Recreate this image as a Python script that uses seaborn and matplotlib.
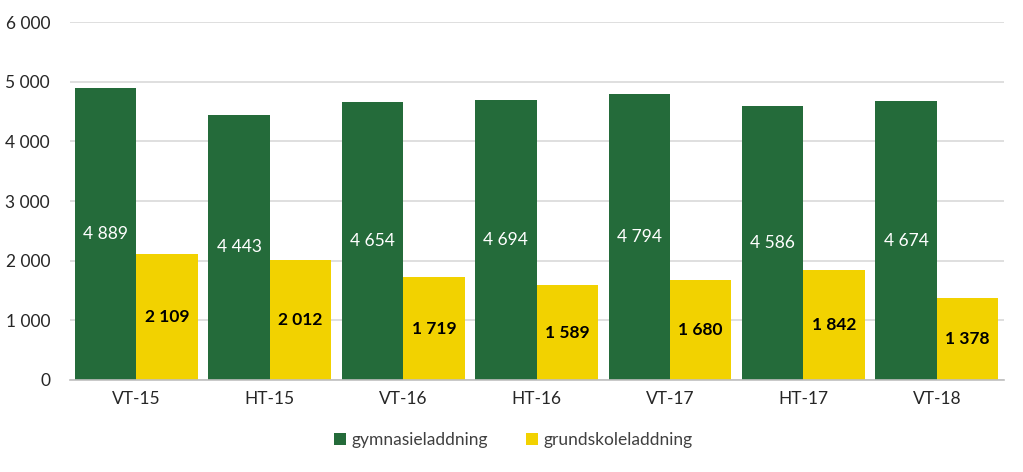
import matplotlib
matplotlib.use("Agg")
import matplotlib.pyplot as plt
import seaborn as sns
import pandas as pd
from matplotlib.ticker import FuncFormatter

categories = ["VT-15", "HT-15", "VT-16", "HT-16", "VT-17", "HT-17", "VT-18"]
gymnasie = [4889, 4443, 4654, 4694, 4794, 4586, 4674]
grundskola = [2109, 2012, 1719, 1589, 1680, 1842, 1378]
series_names = ["gymnasieladdning", "grundskoleladdning"]
colors = ["#246B3A", "#F2D200"]

df = pd.DataFrame({
    "term": categories * 2,
    "value": gymnasie + grundskola,
    "series": [series_names[0]] * len(categories) + [series_names[1]] * len(categories),
})

sns.set_style("white")
plt.rcParams["font.family"] = ["Lato", "DejaVu Sans"]

fig = plt.figure(figsize=(10.23, 4.72), dpi=100)
ax = fig.add_axes([0.068, 0.195, 0.913, 0.758])

sns.barplot(data=df, x="term", y="value", hue="series", palette=colors,
            width=0.92, gap=0, ax=ax, saturation=1, edgecolor="none", linewidth=0)

fmt = lambda v: f"{int(v):,}".replace(",", " ")
for i, cont in enumerate(ax.containers):
    if i == 0:
        ax.bar_label(cont, labels=[fmt(v) for v in gymnasie], label_type="center",
                     color="white", fontsize=12.5)
    else:
        ax.bar_label(cont, labels=[fmt(v) for v in grundskola], label_type="center",
                     color="black", fontsize=12.5, fontweight="bold")

ax.set_ylim(0, 6000)
ax.set_yticks(range(0, 6001, 1000))
ax.yaxis.set_major_formatter(FuncFormatter(lambda v, p: fmt(v)))
ax.grid(axis="y", color="#D9D9D9", linewidth=1.2)
ax.set_axisbelow(True)
for s in ["top", "right", "left"]:
    ax.spines[s].set_visible(False)
ax.spines["bottom"].set_color("#BFBFBF")
ax.spines["bottom"].set_linewidth(1.2)
ax.set_xlabel("")
ax.set_ylabel("")
ax.tick_params(axis="both", length=0, labelsize=12.5, colors="#262626", pad=8)
ax.tick_params(axis="y", pad=14)
ax.set_xlim(-0.5, len(categories) - 0.5)

handles, labels = ax.get_legend_handles_labels()
ax.legend(handles, labels, loc="lower center", bbox_to_anchor=(0.475, -0.235), ncol=2,
          frameon=False, fontsize=12.5, handlelength=0.7, handleheight=0.7,
          handletextpad=0.3, columnspacing=2.2, labelcolor="#404040")

fig.savefig("out.png", dpi=100)
